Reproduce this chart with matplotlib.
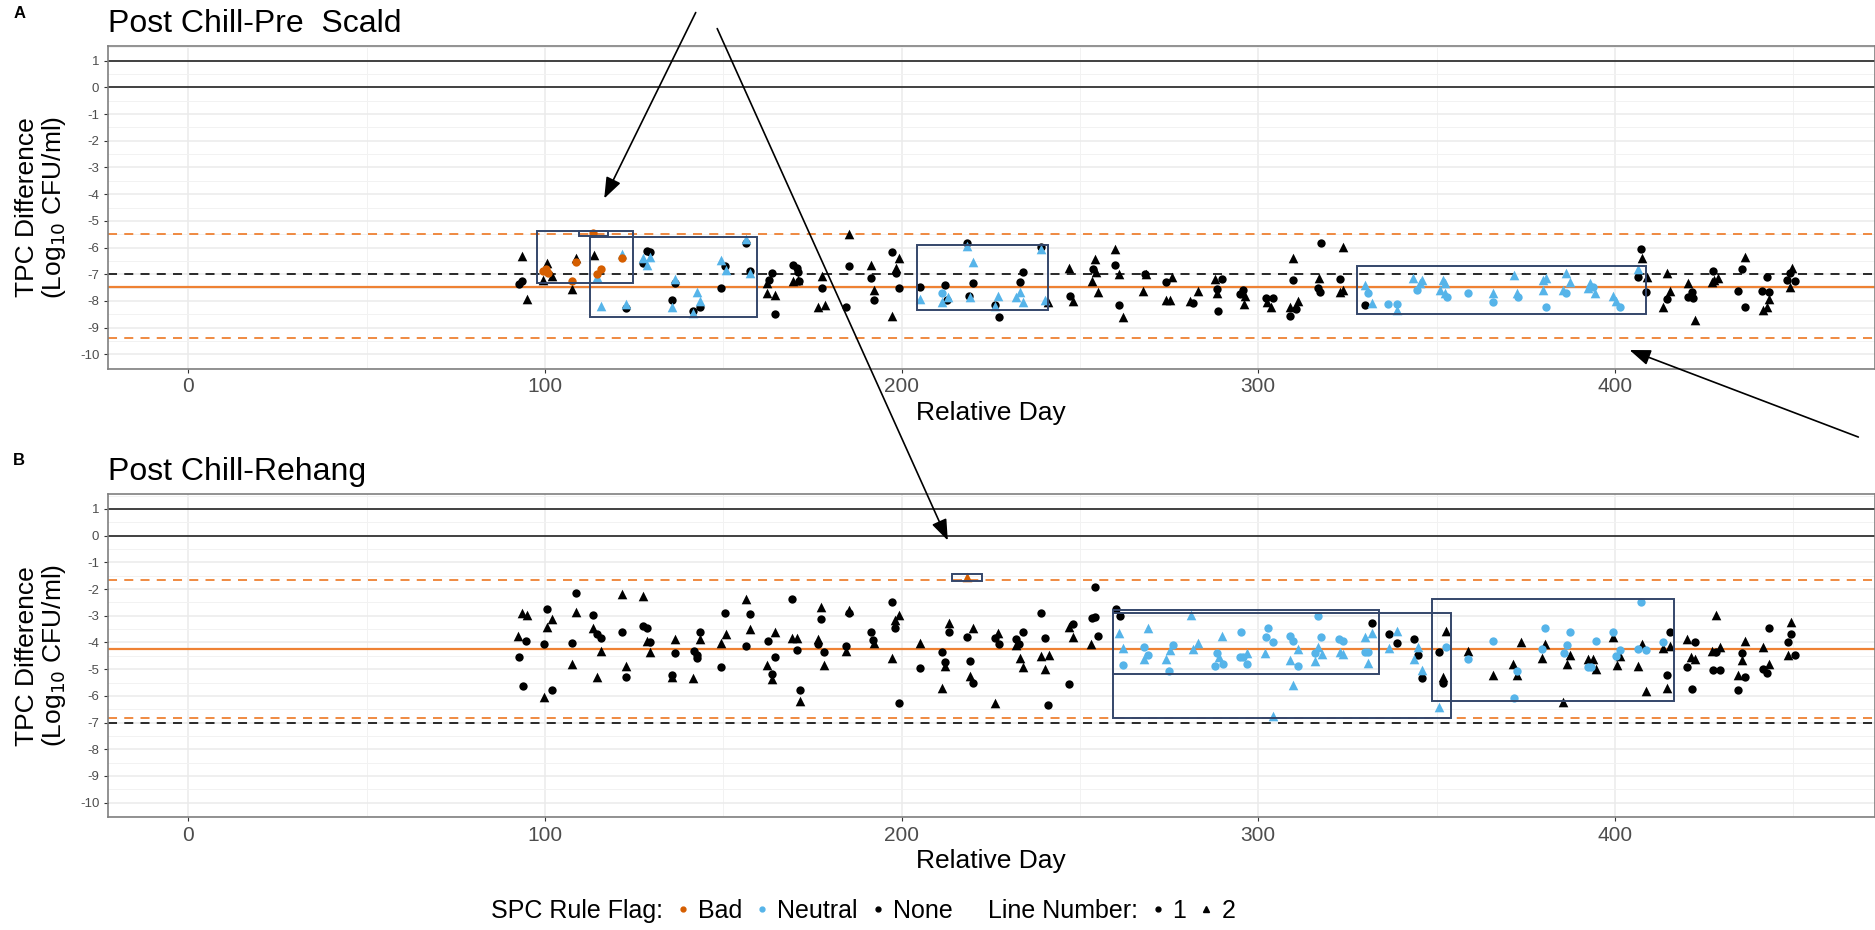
import matplotlib.pyplot as plt
from matplotlib.patches import Rectangle, FancyArrowPatch
from matplotlib.lines import Line2D

plt.rcParams['font.family'] = ['Liberation Sans', 'DejaVu Sans']
plt.rcParams['axes.unicode_minus'] = False

# ---------------- panel A: Post Chill - Pre Scald ----------------
# (relative day, TPC difference) per SPC flag / line number
a_none_circle = [(93.7,-7.24),(92.8,-7.36),(128.5,-6.12),(129.4,-6.15),(127.6,-6.56),(136.4,-7.34),(135.5,-7.96),
    (143.6,-8.21),(141.6,-8.36),(149.5,-7.53),(150.5,-6.69),(156.5,-5.84),(157.5,-6.88),(122.7,-8.28),(163.6,-6.96),
    (162.9,-7.21),(164.5,-8.49),(169.6,-6.65),(170.6,-6.78),(171.0,-6.90),(171.3,-7.24),(177.6,-7.53),(185.3,-6.68),
    (184.4,-8.24),(191.3,-7.15),(192.3,-7.96),(197.2,-6.15),(198.3,-6.94),(199.3,-7.53),(205.1,-7.46),(212.2,-7.40),
    (212.8,-7.96),(220.1,-7.34),(219.0,-7.80),(218.2,-5.84),(239.0,-5.99),(234.1,-6.90),(233.2,-7.28),(227.4,-8.59),
    (226.2,-8.15),(247.2,-7.81),(253.7,-6.81),(259.8,-6.65),(261.0,-8.15),(268.2,-6.99),(274.0,-7.28),(281.8,-8.09),
    (289.7,-7.19),(288.3,-7.55),(288.8,-8.36),(295.8,-7.59),(295.0,-7.75),(302.3,-7.90),(304.0,-7.90),(309.8,-7.21),
    (310.7,-8.31),(308.9,-8.56),(316.8,-7.53),(317.3,-7.65),(317.7,-5.84),(322.9,-7.19),(329.9,-8.15),(407.2,-6.07),
    (406.5,-7.09),(408.7,-7.65),(414.5,-7.94),(421.5,-7.65),(420.5,-7.86),(421.9,-7.90),(427.5,-6.88),(435.5,-6.81),
    (434.4,-7.61),(436.4,-8.24),(442.5,-7.09),(441.1,-7.61),(443.2,-7.65),(449.0,-6.96),(448.1,-7.21),(450.4,-7.25)]
a_none_tri = [(93.7,-6.30),(94.9,-7.94),(100.7,-6.59),(99.5,-7.21),(101.9,-7.06),(108.7,-6.40),(107.7,-7.54),
    (113.7,-6.28),(162.4,-7.31),(162.4,-7.69),(164.5,-7.78),(169.6,-7.24),(171.0,-7.20),(177.6,-7.06),(176.5,-8.21),
    (178.5,-8.15),(185.3,-5.49),(191.3,-6.65),(192.3,-7.59),(199.3,-6.40),(198.3,-6.78),(197.2,-8.55),(241.1,-8.03),
    (247.0,-6.78),(248.1,-7.99),(254.2,-6.43),(253.3,-7.24),(255.1,-7.65),(254.5,-6.90),(259.8,-6.07),(261.0,-6.99),
    (262.1,-8.59),(268.5,-6.99),(267.7,-7.63),(275.9,-7.09),(274.0,-7.96),(275.2,-7.96),(280.8,-7.99),(283.2,-7.61),
    (287.8,-7.19),(288.5,-7.71),(296.2,-7.80),(296.1,-8.11),(302.5,-8.03),(303.7,-8.21),(309.8,-6.38),(311.0,-7.99),
    (308.9,-8.21),(317.1,-7.15),(323.8,-5.97),(322.9,-7.65),(323.8,-7.59),(407.5,-6.40),(408.9,-7.09),(414.5,-6.94),
    (415.4,-7.61),(413.5,-8.21),(420.5,-7.31),(422.4,-8.71),(427.1,-7.28),(428.9,-7.15),(427.9,-7.21),(436.4,-6.37),
    (443.2,-7.94),(441.6,-8.34),(442.5,-8.24),(449.5,-6.78),(449.0,-7.49)]
a_neutral_circle = [(211.2,-7.69),(336.4,-8.11),(338.8,-8.11),(330.8,-7.71),(352.8,-7.86),(365.7,-8.03),
    (372.9,-7.84),(380.6,-8.24),(386.4,-7.69),(393.9,-7.49),(401.4,-8.21),(358.9,-7.71),(344.4,-7.59)]
a_neutral_tri = [(114.7,-7.11),(121.5,-6.24),(115.6,-8.18),(122.7,-8.13),(127.6,-6.40),(129.4,-6.34),(128.5,-6.65),
    (136.4,-7.18),(135.5,-8.21),(142.5,-7.65),(143.5,-7.99),(141.6,-8.46),(149.5,-6.47),(150.7,-6.84),(156.5,-5.69),
    (157.5,-6.96),(205.1,-7.94),(211.2,-8.03),(213.1,-7.86),(219.2,-7.86),(218.2,-5.94),(220.1,-6.55),(239.1,-6.07),
    (233.2,-7.65),(232.0,-7.86),(234.1,-8.05),(227.1,-7.81),(226.2,-8.19),(240.2,-7.96),(329.9,-7.40),(331.8,-8.06),
    (338.8,-8.34),(343.4,-7.15),(345.3,-7.31),(345.8,-7.21),(351.8,-7.21),(352.3,-7.31),(350.9,-7.59),(352.3,-7.69),
    (365.7,-7.69),(371.7,-7.03),(372.4,-7.71),(379.9,-7.21),(380.8,-7.15),(379.7,-7.59),(386.4,-6.96),(387.4,-7.28),
    (385.5,-7.59),(393.0,-7.31),(392.5,-7.53),(394.4,-7.69),(399.5,-7.81),(400.4,-7.99),(406.5,-6.81)]
a_bad_circle = [(99.5,-6.88),(101.0,-6.95),(100.3,-6.80),(108.7,-6.55),(107.7,-7.24),(113.6,-5.44),
    (115.6,-6.80),(114.5,-7.00),(121.5,-6.40)]
a_bad_tri = []
a_center, a_ucl, a_lcl = -7.46, -5.50, -9.40
# flagged runs: (day from, day to, low, high)
a_boxes = [(97.7,124.8,-7.33,-5.38),(109.6,117.8,-5.57,-5.38),(112.6,159.5,-8.61,-5.59),
           (204.2,241.1,-8.34,-5.89),(327.8,408.6,-8.50,-6.69)]

# ---------------- panel B: Post Chill - Rehang ----------------
b_none_circle = [(94.7,-3.94),(92.8,-4.55),(93.8,-5.62),(100.7,-2.76),(99.7,-4.07),(101.9,-5.78),(108.7,-2.13),
    (107.7,-4.03),(113.6,-2.97),(114.7,-3.68),(115.6,-3.84),(121.7,-3.59),(122.7,-5.30),(127.6,-3.37),(128.5,-3.47),
    (129.6,-3.97),(136.4,-4.41),(135.5,-5.22),(141.8,-4.31),(142.5,-4.47),(142.5,-4.57),(143.6,-3.59),(149.5,-4.93),
    (150.5,-2.91),(157.5,-2.93),(156.5,-4.13),(162.6,-3.94),(164.5,-4.55),(163.6,-5.18),(169.4,-2.38),(170.6,-4.28),
    (171.5,-5.78),(177.4,-3.13),(176.5,-4.07),(178.3,-4.37),(185.3,-2.91),(184.4,-4.13),(191.3,-3.62),(192.1,-3.91),
    (197.2,-2.47),(198.1,-3.47),(199.3,-6.28),(205.1,-4.97),(213.4,-3.59),(211.2,-4.34),(212.2,-4.72),(218.2,-3.78),
    (219.2,-4.69),(220.1,-5.53),(226.2,-3.84),(227.3,-4.07),(232.0,-3.88),(233.0,-4.07),(234.1,-3.62),(239.1,-2.88),
    (240.2,-3.84),(241.1,-6.34),(248.1,-3.32),(247.0,-5.57),(254.2,-1.91),(253.3,-3.07),(254.2,-3.06),(255.1,-3.76),
    (260.1,-2.76),(261.2,-2.99),(332.0,-3.28),(336.7,-3.68),(338.8,-4.01),(343.6,-3.88),(344.7,-4.47),(345.8,-5.32),
    (350.7,-4.37),(351.7,-5.53),(414.5,-5.22),(415.4,-3.59),(422.4,-3.99),(420.3,-4.93),(421.5,-5.74),(428.3,-4.34),
    (427.4,-5.03),(429.4,-5.03),(435.5,-4.38),(436.4,-5.28),(434.4,-5.78),(443.2,-3.47),(441.6,-5.00),(442.5,-5.13),
    (449.3,-3.68),(448.4,-3.99),(450.4,-4.47)]
b_none_tri = [(93.5,-2.91),(94.9,-2.97),(92.5,-3.76),(101.9,-3.13),(100.7,-3.43),(99.7,-6.05),(108.7,-2.87),
    (107.7,-4.81),(113.6,-3.44),(115.6,-4.31),(114.7,-5.30),(121.7,-2.18),(122.7,-4.88),(127.6,-2.26),(128.5,-3.93),
    (129.6,-4.36),(136.4,-3.87),(135.5,-5.28),(143.6,-3.87),(141.6,-5.32),(149.5,-4.03),(150.7,-3.68),(156.5,-2.37),
    (157.5,-3.49),(164.5,-3.62),(162.4,-4.84),(163.6,-5.38),(169.3,-3.84),(170.6,-3.82),(171.5,-6.19),(177.4,-2.66),
    (176.5,-3.87),(178.3,-4.84),(185.3,-2.78),(184.4,-4.31),(192.3,-4.01),(199.3,-2.97),(198.1,-3.16),(197.2,-4.59),
    (205.1,-4.01),(213.4,-3.26),(212.2,-4.88),(211.2,-5.69),(220.1,-3.46),(219.2,-5.25),(227.1,-3.63),(226.2,-6.25),
    (232.2,-4.09),(233.2,-4.59),(234.1,-4.93),(239.1,-4.51),(241.3,-4.47),(240.2,-4.99),(247.0,-3.43),(248.1,-3.78),
    (253.1,-4.07),(352.6,-3.56),(351.7,-5.30),(358.7,-4.31),(365.7,-5.22),(373.6,-3.99),(371.5,-4.80),(372.6,-5.22),
    (380.5,-4.06),(379.6,-4.59),(387.5,-4.47),(386.6,-4.80),(385.5,-6.22),(392.5,-4.62),(393.7,-4.62),(394.6,-4.99),
    (399.5,-3.81),(401.4,-4.51),(400.6,-4.84),(407.5,-4.07),(406.5,-4.88),(408.6,-5.82),(413.5,-4.22),(415.4,-4.13),
    (414.5,-5.69),(420.3,-3.87),(421.3,-4.53),(422.4,-4.62),(428.3,-2.97),(427.1,-4.31),(429.4,-4.18),(436.4,-3.94),
    (435.5,-4.66),(434.4,-5.22),(441.4,-4.18),(443.2,-4.80),(449.3,-3.24),(448.4,-4.47)]
b_neutral_circle = [(262.1,-4.84),(268.0,-4.18),(269.1,-4.47),(276.0,-4.09),(275.0,-5.07),(288.5,-4.41),
    (287.8,-4.88),(290.0,-4.81),(295.1,-3.59),(295.8,-4.53),(294.8,-4.56),(296.7,-4.81),(302.8,-3.47),(302.1,-3.78),
    (304.0,-3.99),(308.9,-3.76),(309.8,-3.94),(311.0,-4.88),(316.8,-2.99),(317.7,-3.78),(315.9,-4.41),(322.7,-3.87),
    (323.8,-3.93),(329.9,-4.34),(330.8,-4.34),(352.6,-4.16),(358.7,-4.62),(365.7,-3.94),(372.6,-5.07),(371.7,-6.07),
    (380.5,-3.47),(379.6,-4.26),(387.5,-3.59),(386.6,-4.09),(385.7,-4.38),(394.6,-3.94),(392.5,-4.91),(393.4,-4.91),
    (399.5,-3.59),(401.4,-4.28),(400.4,-4.51),(407.4,-2.47),(406.5,-4.26),(408.6,-4.28),(413.5,-3.97)]
b_neutral_tri = [(261.0,-3.63),(262.1,-4.22),(269.0,-3.44),(268.0,-4.62),(275.2,-4.28),(274.0,-4.62),(281.0,-2.97),
    (283.2,-4.03),(281.8,-4.26),(289.9,-3.74),(289.0,-4.53),(296.7,-4.38),(301.9,-4.38),(311.0,-4.24),(308.9,-4.66),
    (309.8,-5.59),(316.8,-4.18),(317.9,-4.44),(315.9,-4.69),(322.9,-4.34),(323.8,-4.43),(329.9,-3.78),(332.0,-3.63),
    (330.8,-4.78),(304.0,-6.75),(336.7,-4.22),(338.8,-3.57),(343.7,-4.63),(344.8,-4.18),(345.8,-5.03),(350.7,-6.40)]
b_bad_circle = []
b_bad_tri = [(218.2,-1.53)]
b_center, b_ucl, b_lcl = -4.24, -1.66, -6.82
b_boxes = [(214.0,222.4,-1.68,-1.43),(259.2,333.9,-5.19,-2.78),(259.2,353.9,-6.82,-2.88),(348.6,416.5,-6.19,-2.38)]

flag_colors = {'Bad': '#D55E00', 'Neutral': '#56B4E9', 'None': '#000000'}
line_orange = '#EE8133'
box_color = '#34466A'

fig = plt.figure(figsize=(18.75, 9.3), dpi=100)
axA = fig.add_axes([0.0574, 0.6032, 0.9426, 0.3473])
axB = fig.add_axes([0.0574, 0.1211, 0.9426, 0.3474])


def draw_panel(ax, groups, center, ucl, lcl, boxes, title):
    ax.axhline(1, color='#333333', lw=1.3, zorder=2)
    ax.axhline(0, color='#333333', lw=1.3, zorder=2)
    ax.axhline(ucl, color=line_orange, lw=1.3, ls=(0, (5, 4)), zorder=2)
    ax.axhline(lcl, color=line_orange, lw=1.3, ls=(0, (5, 4)), zorder=2)
    ax.axhline(-7, color='#1a1a1a', lw=1.3, ls=(0, (5, 4)), zorder=2)
    ax.axhline(center, color=line_orange, lw=1.6, zorder=2)
    for pts, flag, line in groups:
        if not pts:
            continue
        days, vals = zip(*pts)
        ax.scatter(days, vals, marker='o' if line == 1 else '^', s=36 if line == 1 else 48,
                   color=flag_colors[flag], linewidths=0, zorder=3)
    for d0, d1, lo, hi in boxes:
        ax.add_patch(Rectangle((d0, lo), d1 - d0, hi - lo, fill=False, ec=box_color, lw=1.4, zorder=4))

    ax.set_xlim(-22.6, 472.9)
    ax.set_ylim(-10.55, 1.55)
    ax.set_xticks([0, 100, 200, 300, 400])
    ax.set_xticks([50, 150, 250, 350, 450], minor=True)
    yt = list(range(-10, 2))
    ax.set_yticks(yt)
    ax.set_yticklabels([str(v) for v in yt])
    ax.set_yticks([v + 0.5 for v in range(-11, 2)], minor=True)
    ax.grid(which='major', color='#EBEBEB', lw=1.1, zorder=0)
    ax.grid(which='minor', color='#F2F2F2', lw=0.7, zorder=0)
    ax.set_axisbelow(True)
    for s in ax.spines.values():
        s.set_color('#7F7F7F')
        s.set_linewidth(1.2)
    ax.tick_params(which='major', length=3, width=0.8, color='#333333', labelcolor='#4D4D4D', pad=3)
    ax.tick_params(which='minor', length=0)
    ax.tick_params(axis='x', labelsize=15)
    ax.tick_params(axis='y', labelsize=9.5)
    ax.set_xlabel('Relative Day', fontsize=19, labelpad=3)
    ax.set_ylabel('TPC Difference\n(Log$_{10}$ CFU/ml)', fontsize=19, linespacing=1.05)
    ax.yaxis.set_label_coords(-0.0225, 0.5)
    ax.set_title(title, loc='left', fontsize=23, pad=10)


draw_panel(axA, [(a_none_circle, 'None', 1), (a_none_tri, 'None', 2),
                 (a_neutral_circle, 'Neutral', 1), (a_neutral_tri, 'Neutral', 2),
                 (a_bad_circle, 'Bad', 1), (a_bad_tri, 'Bad', 2)],
           a_center, a_ucl, a_lcl, a_boxes, 'Post Chill-Pre  Scald')
draw_panel(axB, [(b_none_circle, 'None', 1), (b_none_tri, 'None', 2),
                 (b_neutral_circle, 'Neutral', 1), (b_neutral_tri, 'Neutral', 2),
                 (b_bad_circle, 'Bad', 1), (b_bad_tri, 'Bad', 2)],
           b_center, b_ucl, b_lcl, b_boxes, 'Post Chill-Rehang')

fig.text(0.007, 0.985, 'A', fontsize=12, fontweight='bold', va='center')
fig.text(0.007, 0.505, 'B', fontsize=12, fontweight='bold', va='center')

# annotation arrows (figure fractions)
arrows = [((0.3717, 0.9892), (0.3216, 0.7839)),
          ((0.3819, 0.9720), (0.5061, 0.4161)),
          ((0.9925, 0.5290), (0.8677, 0.6247))]
for start, end in arrows:
    fig.add_artist(FancyArrowPatch(start, end, transform=fig.transFigure,
                                   arrowstyle='-|>,head_length=0.8,head_width=0.3',
                                   mutation_scale=16, lw=1.2, color='black'))

# legend
blank = Line2D([], [], ls='none', marker='')
handles = [blank,
           Line2D([], [], ls='none', marker='o', ms=3.5, color=flag_colors['Bad']),
           Line2D([], [], ls='none', marker='o', ms=3.5, color=flag_colors['Neutral']),
           Line2D([], [], ls='none', marker='o', ms=3.5, color=flag_colors['None']),
           blank,
           Line2D([], [], ls='none', marker='o', ms=3.5, color='black'),
           Line2D([], [], ls='none', marker='^', ms=4, color='black')]
labels = ['SPC Rule Flag:', 'Bad', 'Neutral', 'None', 'Line Number:', '1', '2']
fig.legend(handles, labels, loc='center', bbox_to_anchor=(0.455, 0.0204), ncol=7, frameon=False,
           fontsize=18, handlelength=0.4, handletextpad=0.4, columnspacing=0.6)

fig.savefig('out.png', dpi=100)
